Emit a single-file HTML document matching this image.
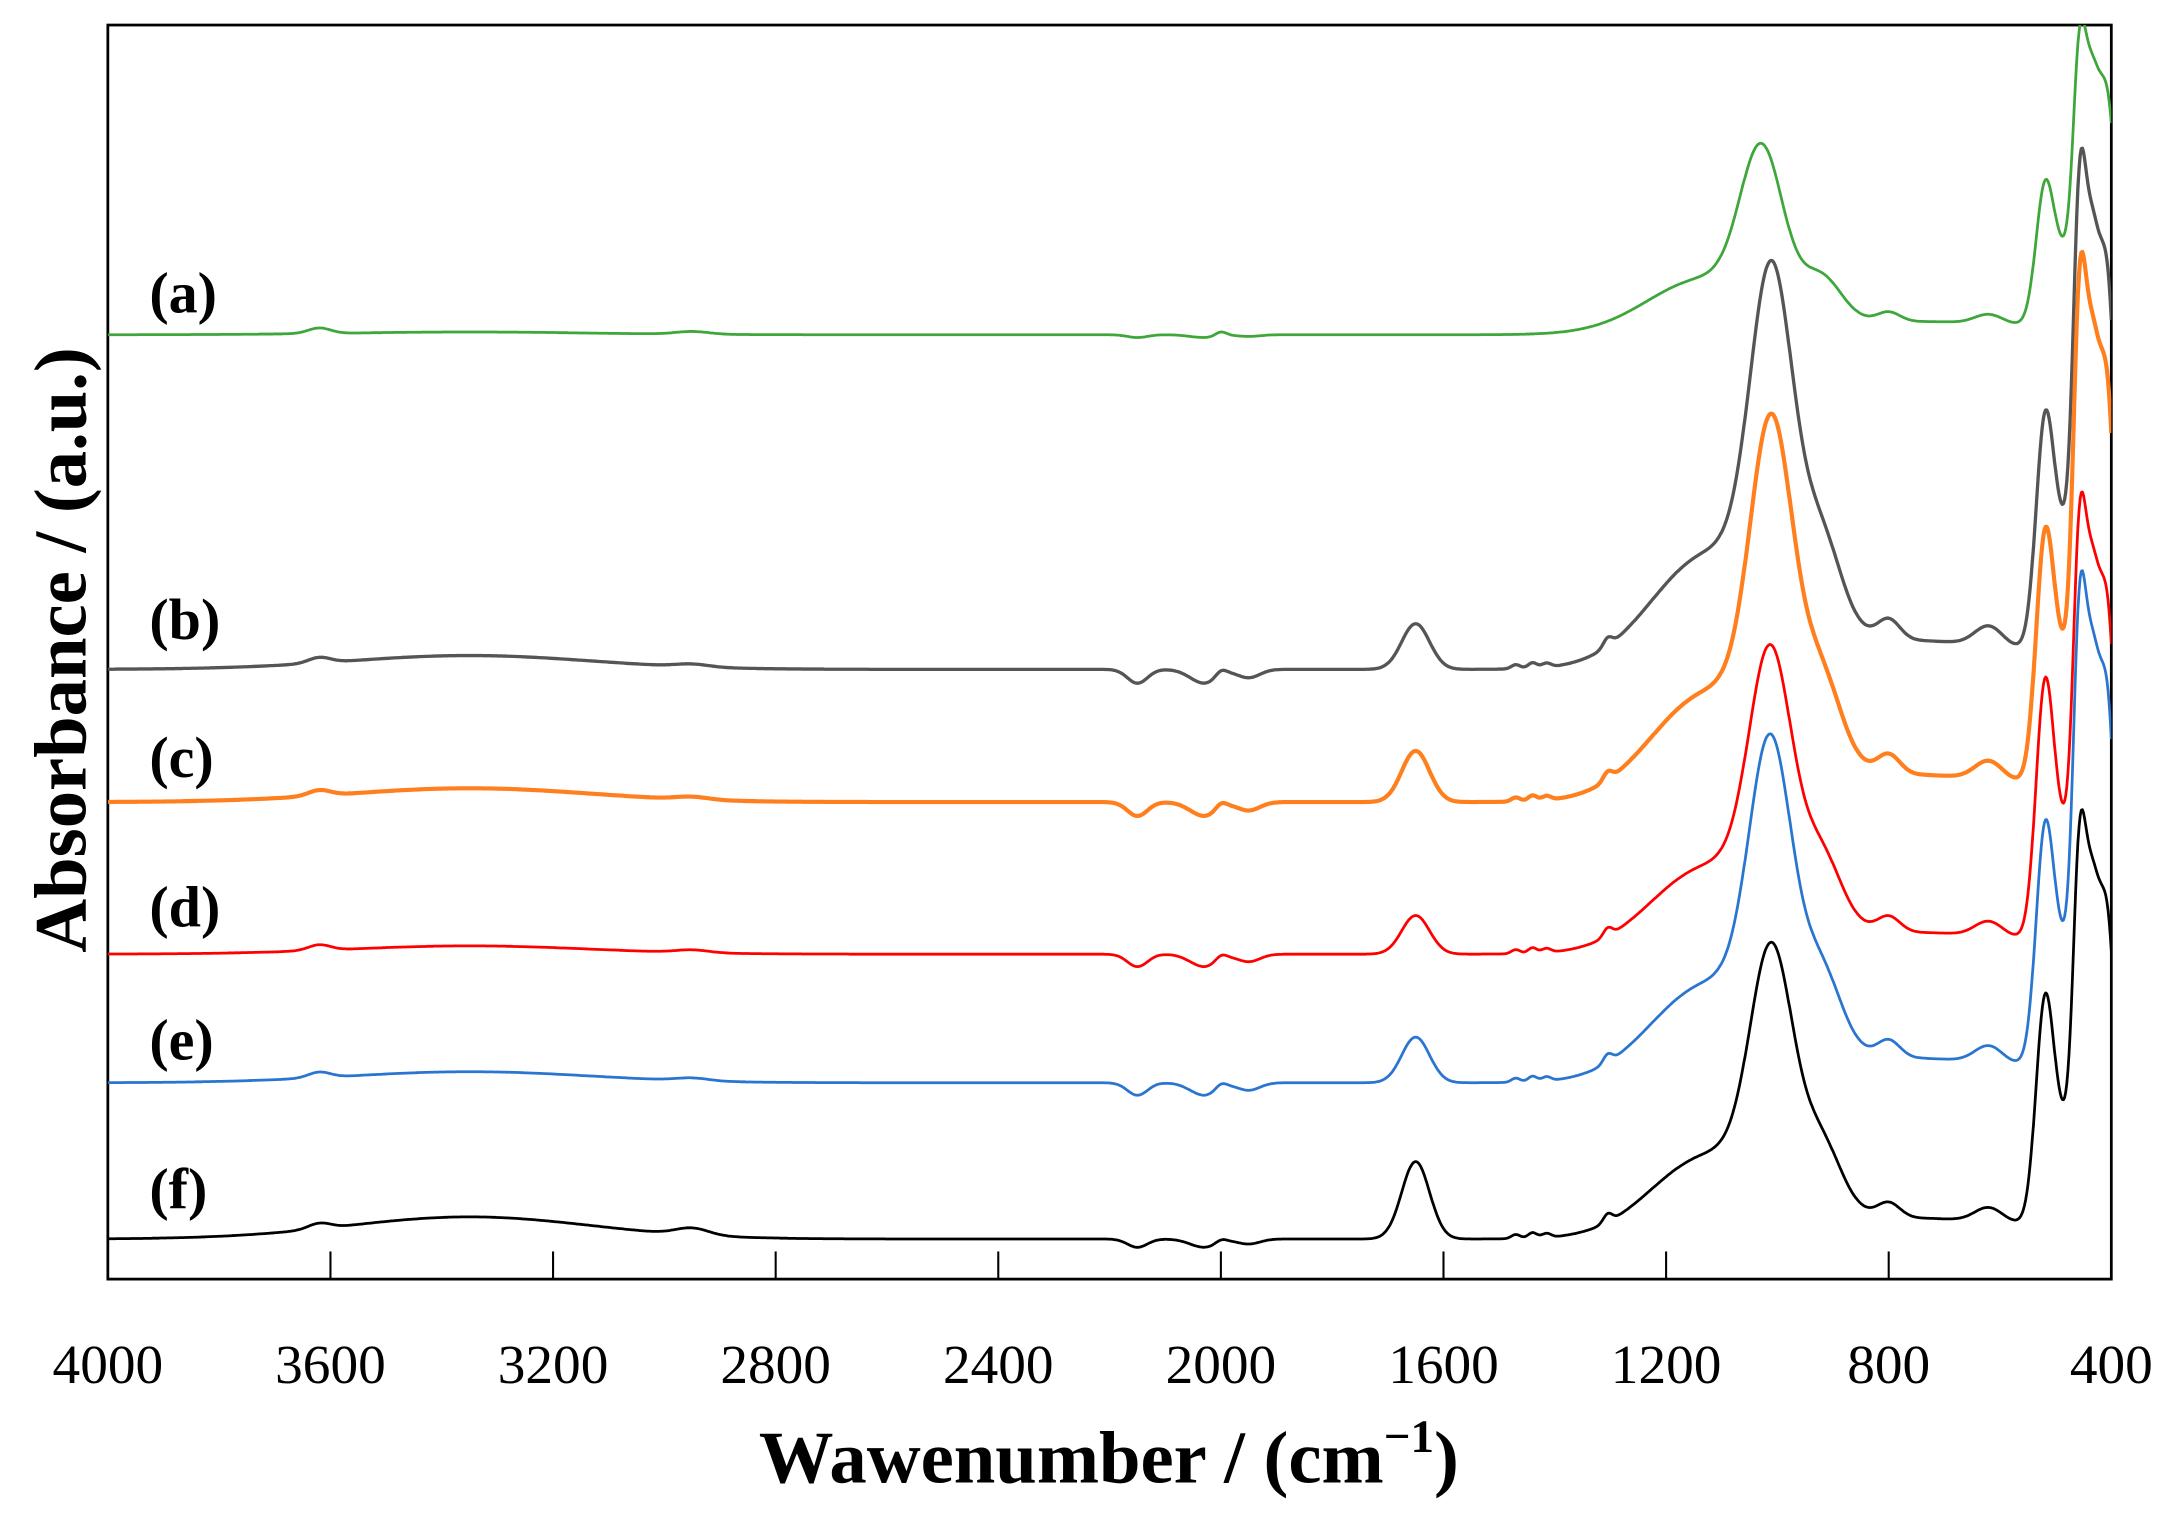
<!DOCTYPE html>
<html><head><meta charset="utf-8"><style>
html,body{margin:0;padding:0;background:#fff;}
svg{display:block;}
</style></head><body>
<svg id="s" width="2168" height="1524" viewBox="0 0 1568 1102" xmlns="http://www.w3.org/2000/svg" font-family="'Liberation Serif', serif">
<defs><clipPath id="cp"><rect x="78" y="18" width="1449" height="907"/></clipPath></defs>
<rect x="78" y="18" width="1449" height="907" fill="none" stroke="#000" stroke-width="2"/>
<g id="ticks" stroke="#000" stroke-width="1.5"></g>
<g id="series" clip-path="url(#cp)" fill="none" stroke-linejoin="round"></g>
<g font-size="40" text-anchor="middle" fill="#000">
<text x="78" y="1000">4000</text><text x="239" y="1000">3600</text><text x="400" y="1000">3200</text>
<text x="561" y="1000">2800</text><text x="722" y="1000">2400</text><text x="883" y="1000">2000</text>
<text x="1044" y="1000">1600</text><text x="1205" y="1000">1200</text><text x="1366" y="1000">800</text>
<text x="1527" y="1000">400</text>
</g>
<text x="802" y="1072" font-size="54" font-weight="bold" text-anchor="middle">Wawenumber / (cm<tspan font-size="34" dy="-22">−1</tspan><tspan dy="22">)</tspan></text>
<text transform="translate(62,470) rotate(-90)" font-size="54" font-weight="bold" text-anchor="middle">Absorbance / (a.u.)</text>
<g font-size="42" font-weight="bold" fill="#000">
<text x="108" y="226">(a)</text><text x="108" y="462">(b)</text><text x="108" y="562">(c)</text>
<text x="108" y="670">(d)</text><text x="108" y="766">(e)</text><text x="108" y="874">(f)</text>
</g>
</svg>
<script>
var NS="http://www.w3.org/2000/svg";
function X(w){return 78+(4000-w)/3600*1449;}
var tg=document.getElementById('ticks');
for(var w=3600;w>400;w-=400){var l=document.createElementNS(NS,'line');l.setAttribute('x1',X(w));l.setAttribute('x2',X(w));l.setAttribute('y1',925);l.setAttribute('y2',905);tg.appendChild(l);}
function g(w,c,s){var d=(w-c)/s;return Math.exp(-0.5*d*d);}
var S=[
{b:242,h:2,A:132,A1:0,P2:85,P3:210,dip:2,c:'#3ea63a',sw:2,mc:1028},
{b:484,h:10,A:281,A1:33,P2:140,P3:345,dip:10,c:'#555555',sw:2.4,mc:1010},
{b:580,h:10,A:267,A1:37,P2:150,P3:365,dip:10,c:'#ff7f1e',sw:3,mc:1010},
{b:690,h:6,A:213,A1:28,P2:160,P3:307,dip:9,c:'#ff0000',sw:2,mc:1012},
{b:783,h:8,A:240,A1:33,P2:145,P3:340,dip:9,c:'#2a75d0',sw:2,mc:1012},
{b:896,h:16,A:204,A1:56,P2:140,P3:285,dip:6,c:'#000000',sw:2,mc:1010}
];
var sg=document.getElementById('series');
S.forEach(function(p,i){
 var d='';
 for(var w=4000;w>=400;w-=2){
  var o=0,A=p.A;
  o+=p.h*g(w,3350,220)+4*g(w,3620,20)+(i==5?5:2)*g(w,2950,30);
  o-=p.dip*(g(w,2150,18)+g(w,2030,25)+0.6*g(w,1950,20));
  o+=(i==0?3:p.dip*0.4)*(g(w,2000,10));
  o+=p.A1*g(w,1650,25);
  if(i>0){o+=3*g(w,1470,8)+4*g(w,1440,8)+3*g(w,1415,8)+6*g(w,1305,8);}
  o+=0.8*A*g(w,p.mc,38)+0.25*A*g(w,p.mc+70,120)+0.2*A*g(w,920,35)+0.07*A*g(w,1170,80);
  o+=0.07*A*g(w,720,200)+0.05*A*g(w,800,20)+0.05*A*g(w,620,25);
  o+=p.P2*g(w,520,16)+p.P3*(0.6*g(w,458,11)+0.7*g(w,435,15)+0.7*g(w,405,15)+0.26*g(w,478,30));
  var y=p.b-o;
  d+=(d?'L':'M')+X(w).toFixed(1)+' '+y.toFixed(1);
 }
 var pa=document.createElementNS(NS,'path');pa.setAttribute('d',d);pa.setAttribute('stroke',p.c);pa.setAttribute('stroke-width',p.sw);sg.appendChild(pa);
});
</script>
</body></html>
